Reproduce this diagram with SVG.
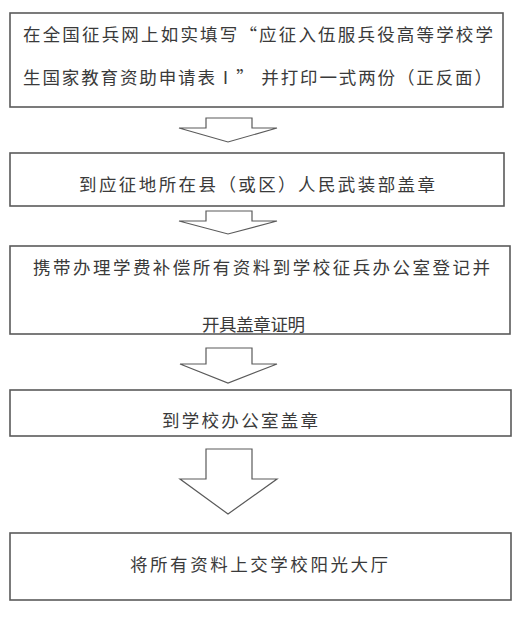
<svg xmlns="http://www.w3.org/2000/svg" width="525" height="617" viewBox="0 0 525 617">
<style>
.box{fill:#fff;stroke:#5a5a5a;stroke-width:1.6}
.arr{fill:#fff;stroke:#5a5a5a;stroke-width:1.2;stroke-linejoin:miter}
.t{font-family:"Noto Sans CJK SC","Noto Sans",sans-serif;font-size:17.5px;fill:#3a3a3a}
</style>
<rect width="525" height="617" fill="#fff"/>
<g id="connectors">
<path class="arr" d="M206,118 H252 V128 H277 L228,142 L179,128 H206 Z"/>
<path class="arr" d="M206,211 H252 V221 H277 L228,234 L179,221 H206 Z"/>
<path class="arr" d="M206,348 H252 V364 H277 L228,383 L180,364 H206 Z"/>
<path class="arr" d="M206,449 H252 V479 H277 L228,514 L180,479 H206 Z"/>
</g>
<g id="node1">
<rect class="box" x="10" y="13" width="493" height="94"/>
<text class="t" x="23" y="41" textLength="470" lengthAdjust="spacing">在全国征兵网上如实填写“应征入伍服兵役高等学校学</text>
<text class="t" x="23" y="84" textLength="469" lengthAdjust="spacing">生国家教育资助申请表Ⅰ” 并打印一式两份（正反面）</text>
</g>
<g id="node2">
<rect class="box" x="10" y="153" width="494" height="53"/>
<text class="t" x="79" y="191" textLength="356" lengthAdjust="spacing">到应征地所在县（或区）人民武装部盖章</text>
</g>
<g id="node3">
<rect class="box" x="10" y="246" width="500" height="88"/>
<text class="t" x="33" y="274" textLength="457" lengthAdjust="spacing">携带办理学费补偿所有资料到学校征兵办公室登记并</text>
<text class="t" x="202" y="331" textLength="103" lengthAdjust="spacing">开具盖章证明</text>
</g>
<g id="node4">
<rect class="box" x="10" y="390" width="501" height="46"/>
<text class="t" x="162" y="427" textLength="156" lengthAdjust="spacing">到学校办公室盖章</text>
</g>
<g id="node5">
<rect class="box" x="10" y="533" width="501" height="67"/>
<text class="t" x="130" y="571" textLength="258" lengthAdjust="spacing">将所有资料上交学校阳光大厅</text>
</g>
</svg>
